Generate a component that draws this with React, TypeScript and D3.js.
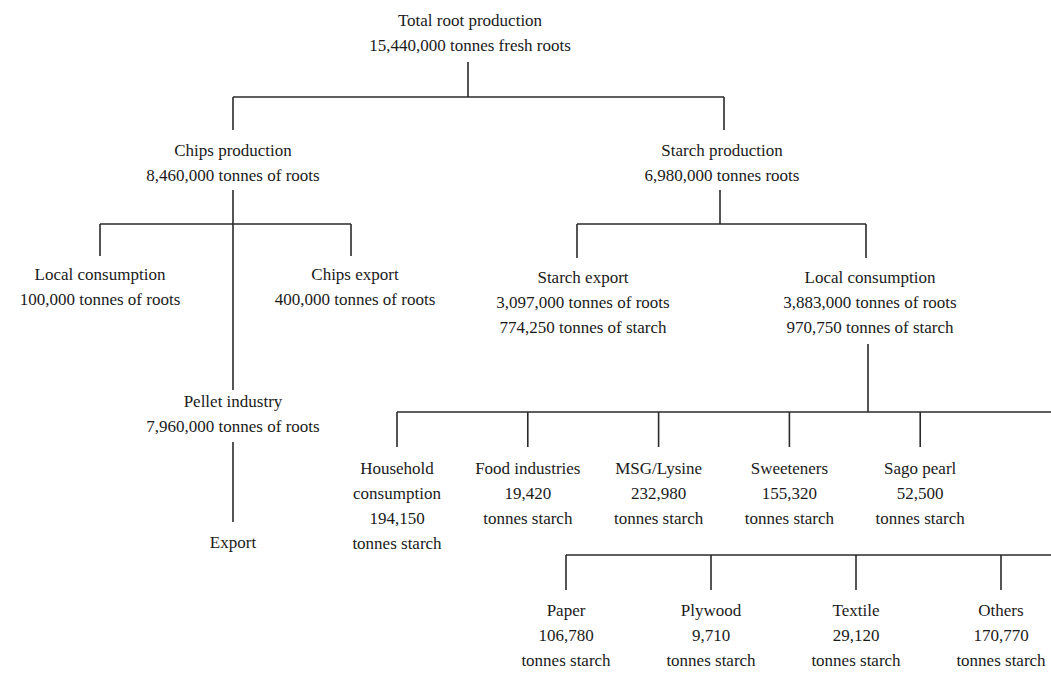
import React from 'react';
import * as d3 from 'd3';

// Flow of cassava roots (tonnes)
const rootLines = ['Total root production', '15,440,000 tonnes fresh roots'];
const branchNames = ['Chips production', 'Starch production'];
const branchAmounts = ['8,460,000 tonnes of roots', '6,980,000 tonnes roots'];
const chipsUses = ['Local consumption', 'Chips export'];
const chipsAmounts = ['100,000 tonnes of roots', '400,000 tonnes of roots'];
const pelletLines = ['Pellet industry', '7,960,000 tonnes of roots'];
const pelletOutlet = 'Export';
const starchUses = ['Starch export', 'Local consumption'];
const starchRoots = ['3,097,000 tonnes of roots', '3,883,000 tonnes of roots'];
const starchTonnes = ['774,250 tonnes of starch', '970,750 tonnes of starch'];
const localUses = [['Household', 'consumption'], ['Food industries'], ['MSG/Lysine'], ['Sweeteners'], ['Sago pearl']];
const localValues = [194150, 19420, 232980, 155320, 52500];
const industryUses = ['Paper', 'Plywood', 'Textile', 'Others'];
const industryValues = [106780, 9710, 29120, 170770];

const W = 1051;
const H = 673;
const fmt = d3.format(',');
const LH = 25;

const Label: React.FC<{ x: number; y: number; lines: string[] }> = ({ x, y, lines }) => (
  <text
    x={x}
    y={y}
    textAnchor="middle"
    style={{ fontFamily: '"Liberation Serif", "DejaVu Serif", serif', fontSize: 17 }}
    fill="#1a1a1a"
  >
    {lines.map((l, i) => (
      <tspan key={i} x={x} y={y + i * LH} dy="0.35em">{l}</tspan>
    ))}
  </text>
);

const App: React.FC = () => {
  // horizontal positions of each row
  const topX = d3.scalePoint<string>().domain(branchNames).range([233, 722]);
  const chipsX = d3.scalePoint<string>().domain(chipsUses).range([100, 351]);
  const starchX = d3.scalePoint<string>().domain(starchUses).range([577, 866]);
  // one more (cut off) branch sits at the right edge in both lower rows
  const localKeys = localUses.map((d) => d.join(' ')).concat(['hidden']);
  const localX = d3.scalePoint<string>().domain(localKeys).range([397, 1051]);
  const indKeys = industryUses.concat(['hidden']);
  const indX = d3.scalePoint<string>().domain(indKeys).range([566, 1146]);

  const rootX = 468;
  const chipsCx = topX(branchNames[0])!;
  const starchCx = topX(branchNames[1])!;
  const localCx = starchX(starchUses[1])!;

  const segs: [number, number, number, number][] = [
    [rootX, 62, rootX, 97],
    [chipsCx, 97, starchCx + 2, 97],
    [chipsCx, 97, chipsCx, 130],
    [starchCx + 2, 97, starchCx + 2, 130],
    // chips
    [chipsCx, 190, chipsCx, 390],
    [chipsX(chipsUses[0])!, 224, chipsX(chipsUses[1])!, 224],
    ...chipsUses.map((c) => [chipsX(c)!, 224, chipsX(c)!, 256] as [number, number, number, number]),
    [chipsCx, 442, chipsCx, 522],
    // starch
    [starchCx - 2, 190, starchCx - 2, 224],
    [starchX(starchUses[0])!, 224, starchX(starchUses[1])!, 224],
    ...starchUses.map((c) => [starchX(c)!, 224, starchX(c)!, 258] as [number, number, number, number]),
    [localCx + 2, 344, localCx + 2, 412],
    [localX(localKeys[0])!, 412, W, 412],
    ...localKeys.slice(0, -1).map((k) => [localX(k)!, 412, localX(k)!, 447] as [number, number, number, number]),
    [indX(indKeys[0])!, 555, W, 555],
    ...indKeys.slice(0, -1).map((k) => [indX(k)!, 555, indX(k)!, 590] as [number, number, number, number]),
  ];

  return (
    <svg width={W} height={H} style={{ position: 'absolute', left: 0, top: 0, background: '#fff' }}>
      <g stroke="#2a2a2a" strokeWidth={1.6} fill="none">
        {segs.map((s, i) => (
          <line key={i} x1={s[0]} y1={s[1]} x2={s[2]} y2={s[3]} />
        ))}
      </g>
      <Label x={rootX + 2} y={20} lines={rootLines} />
      {branchNames.map((b, i) => (
        <Label key={b} x={topX(b)!} y={150} lines={[b, branchAmounts[i]]} />
      ))}
      {chipsUses.map((c, i) => (
        <Label key={c} x={chipsX(c)! + (i ? 4 : 0)} y={274} lines={[c, chipsAmounts[i]]} />
      ))}
      <Label x={chipsCx} y={401} lines={pelletLines} />
      <Label x={chipsCx} y={542} lines={[pelletOutlet]} />
      {starchUses.map((c, i) => (
        <Label key={c} x={starchX(c)! + (i ? 4 : 6)} y={277} lines={[c, starchRoots[i], starchTonnes[i]]} />
      ))}
      {localUses.map((u, i) => (
        <Label key={i} x={localX(localKeys[i])!} y={468} lines={[...u, fmt(localValues[i]), 'tonnes starch']} />
      ))}
      {industryUses.map((u, i) => (
        <Label key={u} x={indX(u)!} y={610} lines={[u, fmt(industryValues[i]), 'tonnes starch']} />
      ))}
    </svg>
  );
};

export default App;
